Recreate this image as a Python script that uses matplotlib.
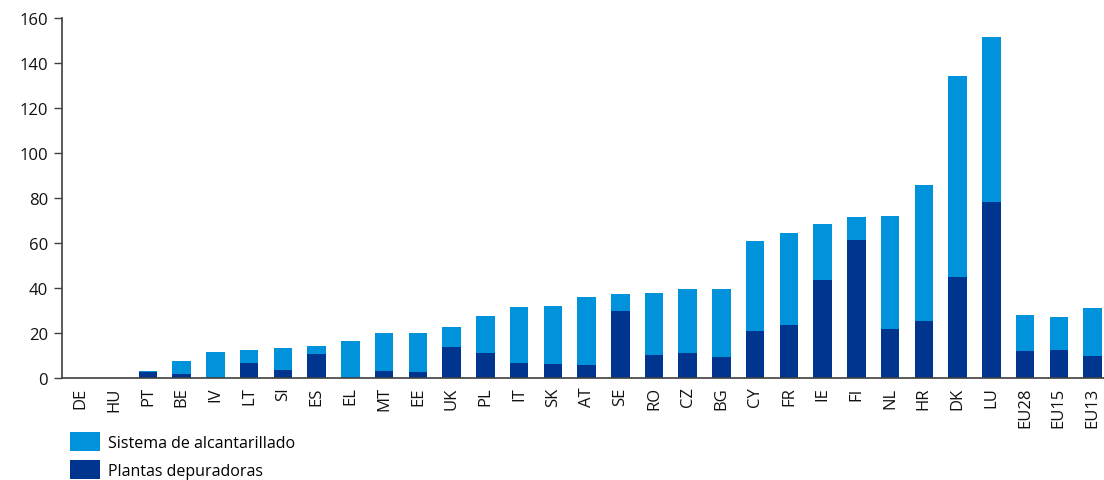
import matplotlib
matplotlib.use("Agg")
import matplotlib.pyplot as plt
from matplotlib.patches import Patch
import numpy as np

plt.rcParams['font.family'] = ['Open Sans', 'DejaVu Sans']

# Countries and aggregates, ordered by total
paises = ['DE', 'HU', 'PT', 'BE', 'IV', 'LT', 'SI', 'ES', 'EL', 'MT', 'EE',
          'UK', 'PL', 'IT', 'SK', 'AT', 'SE', 'RO', 'CZ', 'BG', 'CY', 'FR',
          'IE', 'FI', 'NL', 'HR', 'DK', 'LU', 'EU28', 'EU15', 'EU13']

# Treatment plants (bottom segment)
plantas = [0, 0, 2.5, 1.8, 0, 6.7, 3.6, 10.7, 0, 3.1, 2.5,
           13.9, 11.1, 6.7, 6.2, 5.9, 29.6, 10.2, 11.1, 9.2, 20.9, 23.6,
           43.6, 61.3, 21.6, 25.3, 44.9, 78.2, 11.8, 12.4, 9.6]

# Totals per bar (sewer system stacked on top)
total = [0, 0, 3.0, 7.5, 11.4, 12.4, 13.3, 14.2, 16.4, 20.0, 20.0,
         22.8, 27.6, 31.4, 32.0, 35.9, 37.2, 37.8, 39.7, 39.7, 60.9, 64.4,
         68.3, 71.4, 72.0, 85.8, 134.1, 151.7, 28.0, 27.0, 31.1]

alcantarillado = [t - p for t, p in zip(total, plantas)]

COLOR_ALC = '#0092DA'
COLOR_PLA = '#00358F'
GRIS = '#404040'

fig = plt.figure(figsize=(11.04, 4.81), dpi=100)
ax = fig.add_axes([62 / 1104, 1 - 379 / 481, 1 - 62 / 1104, 360 / 481])

x = np.arange(len(paises))
ax.bar(x, plantas, width=0.55, color=COLOR_PLA, zorder=2)
ax.bar(x, alcantarillado, width=0.55, bottom=plantas, color=COLOR_ALC, zorder=2)

ax.set_xlim(-0.55, len(paises) - 0.66)
ax.set_ylim(0, 160)
ax.set_yticks(range(0, 161, 20))
ax.set_xticks(x)
ax.set_xticklabels(paises, rotation=90)

for lado in ['top', 'right']:
    ax.spines[lado].set_visible(False)
for lado in ['left', 'bottom']:
    ax.spines[lado].set_color(GRIS)
    ax.spines[lado].set_linewidth(1.2)

ax.tick_params(axis='y', direction='out', length=6, width=1, color=GRIS,
               labelsize=12, labelcolor='#111111', pad=4)
ax.tick_params(axis='x', length=0, labelsize=12, labelcolor='#111111', pad=6)

handles = [Patch(facecolor=COLOR_ALC), Patch(facecolor=COLOR_PLA)]
labels = ['Sistema de alcantarillado', 'Plantas depuradoras']
fig.legend(handles, labels, loc='upper left',
           bbox_to_anchor=(70 / 1104, 1 - 433 / 481), frameon=False,
           borderpad=0, borderaxespad=0, handlelength=1.9, handleheight=1.45,
           handletextpad=0.45, labelspacing=0.55, fontsize=11.5)

fig.savefig('out.png', dpi=100)
